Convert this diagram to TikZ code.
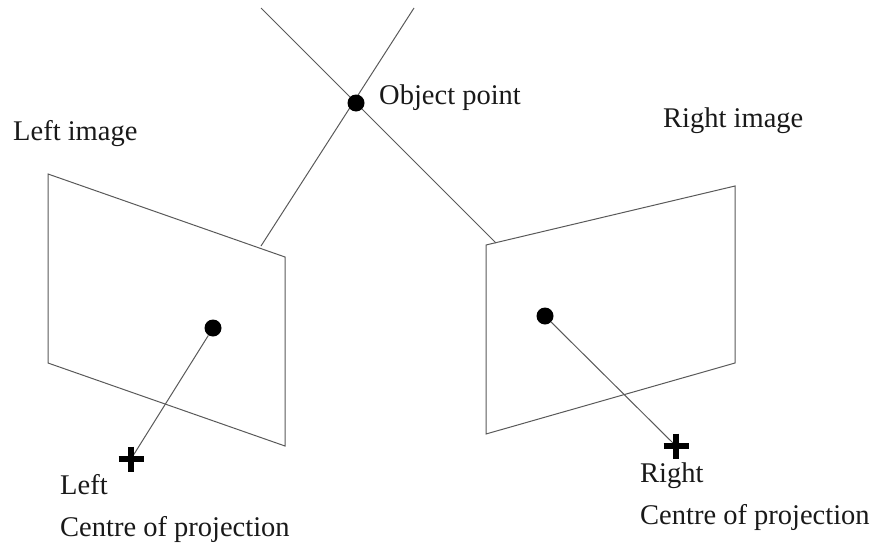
\documentclass[tikz,border=0pt]{standalone}
\usepackage{fontspec}
\setmainfont{Liberation Serif}
\begin{document}
\begin{tikzpicture}[
    x=1pt, y=-1pt,
    line/.style={draw=black!65, line width=1pt},
    dot/.style={circle, fill=black, inner sep=0pt, minimum size=17pt},
    plus/.style={line width=5.6pt, black},
    label/.style={font=\fontsize{28.5}{30}\selectfont, anchor=base west, inner sep=0pt, text=black!90},
]
\useasboundingbox (0, 0) rectangle (875, 546);

% Left image
\coordinate (la) at (48, 174);
\coordinate (lb) at (285, 257);
\coordinate (lc) at (285, 446);
\coordinate (ld) at (48, 363);
\draw[line] (la) -- (lb) -- (lc) -- (ld) -- cycle;
\node[label] (leftlabel) at (13, 140) {Left image};

% Right image
\coordinate (ra) at (486, 245);
\coordinate (rb) at (735, 186);
\coordinate (rc) at (735, 363);
\coordinate (rd) at (486, 434);
\draw[line] (ra) -- (rb) -- (rc) -- (rd) -- cycle;
\node[label] (rightlabel) at (663, 127) {Right image};

% Rays
\coordinate (ltop) at (414, 8);
\coordinate (rtop) at (261, 8);
\coordinate (lfoot) at (261, 246);
\coordinate (rfoot) at (496, 243);
\draw[line] (lfoot) -- (ltop);
\draw[line] (rfoot) -- (rtop);

% Object point
\node[dot] (object) at (356, 103) {};
\node[label] (objectlabel) at (379, 104) {Object point};

% Image points
\node[dot] (leftpt) at (213, 328) {};
\node[dot] (rightpt) at (545, 316) {};

% Centres of projection
\coordinate (leftc) at (131, 459);
\coordinate (rightc) at (676, 446);
\draw[line] (leftpt) -- (leftc);
\draw[line] (rightpt) -- (rightc);
\draw[plus] (118.5, 459) -- (143.5, 459) (131, 446.5) -- (131, 471.5);
\draw[plus] (663.5, 446) -- (688.5, 446) (676, 433.5) -- (676, 458.5);

\node[label] (leftname) at (60, 494) {Left};
\node[label] (leftcentre) at (60, 536) {Centre of projection};
\node[label] (rightname) at (640, 482) {Right};
\node[label] (rightcentre) at (640, 524) {Centre of projection};

\end{tikzpicture}
\end{document}
